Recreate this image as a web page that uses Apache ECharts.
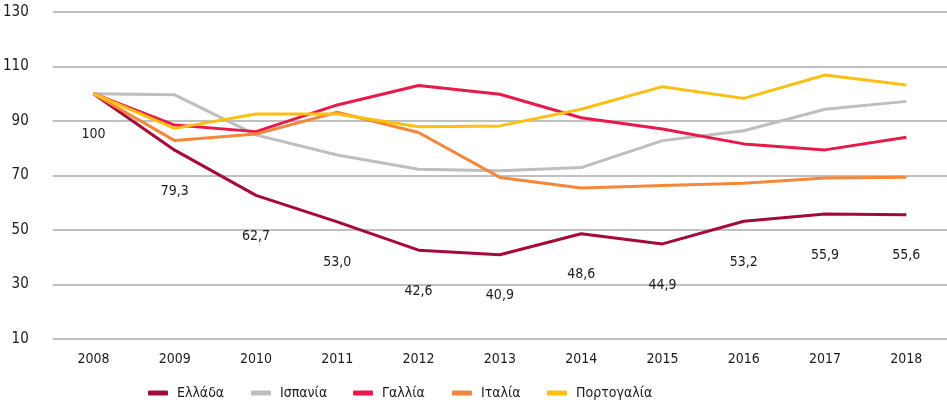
<!DOCTYPE html>
<html><head><meta charset="utf-8">
<script src="https://cdn.jsdelivr.net/npm/echarts@6/dist/echarts.min.js"></script>
<style>html,body{margin:0;padding:0;background:#fff}#c{width:947px;height:409px}</style>
</head><body><div id="c"></div>
<script>
const years = ['2008','2009','2010','2011','2012','2013','2014','2015','2016','2017','2018'];
const greece   = [100, 79.3, 62.7, 53.0, 42.6, 40.9, 48.6, 44.9, 53.2, 55.9, 55.6];
const spain    = [100, 99.6, 84.9, 77.5, 72.3, 71.7, 72.9, 82.8, 86.4, 94.3, 97.2];
const france   = [100, 88.5, 86.1, 95.9, 103.0, 99.8, 91.2, 87.1, 81.6, 79.4, 84.0];
const italy    = [100, 82.8, 85.2, 93.2, 85.8, 69.3, 65.4, 66.3, 67.2, 69.1, 69.4];
const portugal = [100, 87.3, 92.6, 92.6, 87.9, 88.2, 94.3, 102.6, 98.3, 106.9, 103.2];
const names = ['Ελλάδα','Ισπανία','Γαλλία','Ιταλία','Πορτογαλία'];
const colors = ['#a50a3a','#bebebe','#e8194b','#f5873a','#fdbf14'];
const yTicks = [10, 30, 50, 70, 90, 110, 130];

const FONT = "'DejaVu Sans Condensed','Liberation Sans Narrow',sans-serif";
const chart = echarts.init(document.getElementById('c'), null, {renderer:'canvas'});
const seriesData = [greece, spain, france, italy, portugal];
const series = seriesData.map((d, i) => ({
  name: names[i], type: 'line', data: d,
  symbol: 'circle', symbolSize: 0.01, showSymbol: true, smooth: false,
  lineStyle: {width: 3, color: colors[i]}, itemStyle: {color: colors[i]},
  z: 2 + i,
  label: i === 0 ? {
    show: true, position: 'bottom', distance: 34, color: '#1a1a1a',
    fontFamily: FONT, fontSize: 14,
    formatter: p => p.value === 100 ? '100' : p.value.toFixed(1).replace('.', ',')
  } : {show: false}
}));
const legendLefts = [148, 251, 353, 452, 547];
chart.setOption({
  animation: false,
  color: colors,
  grid: {left: 52, right: -5, top: 12, bottom: 70},
  legend: names.map((n, i) => ({
    left: legendLefts[i], bottom: 9, padding: 0, itemWidth: 20, itemHeight: 5,
    icon: 'roundRect',
    textStyle: {fontFamily: FONT, fontSize: 14, color: '#1a1a1a', padding: [0, 0, 0, 4]},
    data: [n]
  })),
  xAxis: {
    type: 'category', data: years, boundaryGap: true,
    axisLine: {show: false}, axisTick: {show: false},
    axisLabel: {fontFamily: FONT, fontSize: 14, color: '#1a1a1a', margin: 13}
  },
  yAxis: {
    type: 'value', min: yTicks[0], max: yTicks[yTicks.length-1], interval: 20,
    axisLine: {show: false}, axisTick: {show: false},
    axisLabel: {fontFamily: FONT, fontSize: 15, color: '#1a1a1a', margin: 24},
    splitLine: {lineStyle: {color: '#ababab', width: 1.5}}
  },
  series: series
});
</script></body></html>
